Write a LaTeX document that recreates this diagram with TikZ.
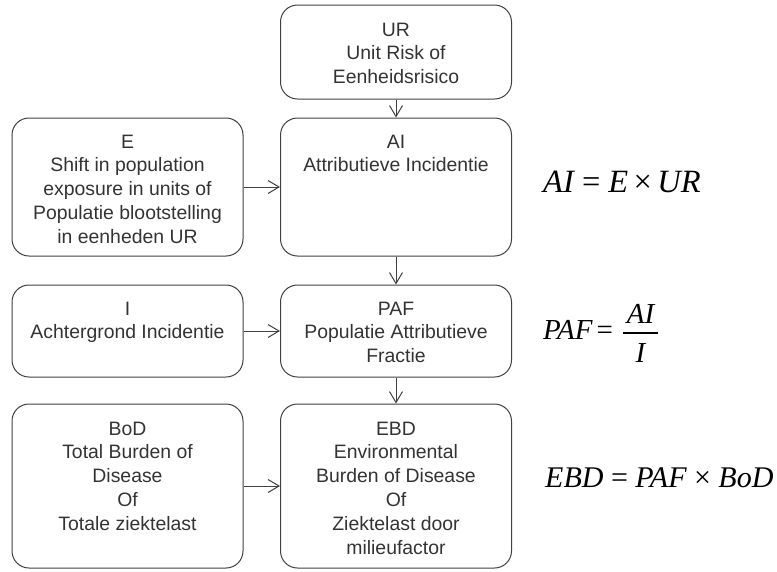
\documentclass[tikz,border=0pt]{standalone}
\usepackage{fontspec}
\setmainfont{Liberation Sans}
\newfontfamily\fserif{Liberation Serif}
\usetikzlibrary{positioning,arrows.meta}

\definecolor{linegray}{HTML}{404040}
\definecolor{textgray}{HTML}{333333}

\tikzset{
	blok/.style={draw=linegray, line width=1pt, rounded corners=17pt, minimum width=231pt, inner sep=0pt},
	bloktekst/.style={align=center, inner sep=0pt, text=textgray, font=\fontsize{19.4}{23.8}\selectfont},
	pijl/.style={draw=linegray, line width=1pt, -{Straight Barb[length=11pt,width=13pt]}},
	formule/.style={anchor=base west, inner sep=0pt, font=\fontsize{30}{36}\selectfont\fserif\itshape}
}

\begin{document}
\begin{tikzpicture}[x=1pt, y=-1pt]
	\useasboundingbox (0,0) rectangle (777,571);

	\node[blok, minimum height=94pt] (ur) at (396,52) {};
	\node[blok, minimum height=138pt] (e) at (127.5,187) {};
	\node[blok, minimum height=138pt] (ai) at (396,187) {};
	\node[blok, minimum height=92pt] (i) at (127.5,331) {};
	\node[blok, minimum height=92pt] (paf) at (396,331) {};
	\node[blok, minimum height=164pt] (bod) at (127.5,486) {};
	\node[blok, minimum height=164pt] (ebd) at (396,486) {};

	\node[bloktekst, below=18pt of ur.north] (urtekst) {UR\\Unit Risk of\\Eenheidsrisico};
	\node[bloktekst, below=17pt of e.north] (etekst) {E\\Shift in population\\exposure in units of\\Populatie blootstelling\\in eenheden UR};
	\node[bloktekst, below=17pt of ai.north] (aitekst) {AI\\Attributieve Incidentie};
	\node[bloktekst, below=17pt of i.north] (itekst) {I\\Achtergrond Incidentie};
	\node[bloktekst, below=17pt of paf.north] (paftekst) {PAF\\Populatie Attributieve\\Fractie};
	\node[bloktekst, below=18pt of bod.north] (bodtekst) {BoD\\Total Burden of\\Disease\\Of\\Totale ziektelast};
	\node[bloktekst, below=18pt of ebd.north] (ebdtekst) {EBD\\Environmental\\Burden of Disease\\Of\\Ziektelast door\\milieufactor};

	\draw[pijl] (ur) -- (ai);
	\draw[pijl] (ai) -- (paf);
	\draw[pijl] (paf) -- (ebd);
	\draw[pijl] (e) -- (ai);
	\draw[pijl] (i) -- (paf);
	\draw[pijl] (bod) -- (ebd);

	% formules
	\node[formule, font=\fontsize{32.5}{38}\selectfont\fserif\itshape] (fai) at (543,192) {AI {\upshape=} E\,{\upshape×}\,UR};
	\node[formule, font=\fontsize{29}{35}\selectfont\fserif\itshape] (fpaf) at (543,339) {PAF\kern4pt{\upshape=}};
	\node[formule, anchor=base, font=\fontsize{29}{35}\selectfont\fserif\itshape] (fteller) at (640.5,323) {AI};
	\node[formule, anchor=base, font=\fontsize{29}{35}\selectfont\fserif\itshape] (fnoemer) at (640.5,362) {I};
	\draw[line width=1.2pt] (623,333) -- (658,333);
	\node[formule, font=\fontsize{30}{36}\selectfont\fserif\itshape] (febd) at (545,487) {EBD {\upshape=} PAF {\upshape×} BoD};
\end{tikzpicture}
\end{document}
